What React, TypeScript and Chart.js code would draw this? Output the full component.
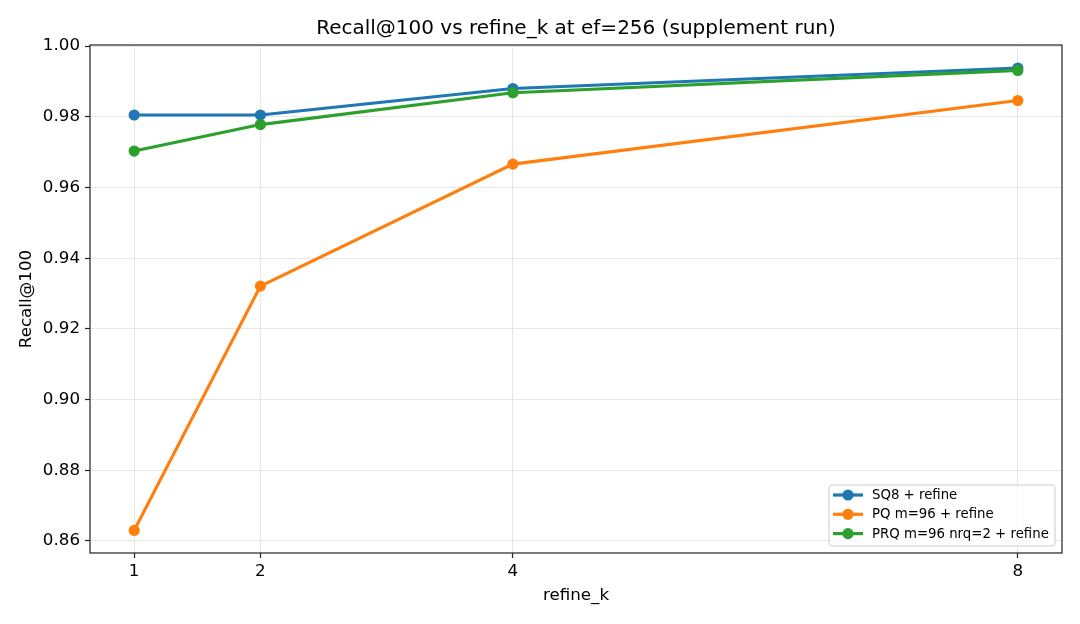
import React, { useEffect, useRef } from 'react'
import { Chart, registerables } from 'chart.js'

Chart.register(...registerables)

// Data
const refineK = [1, 2, 4, 8]
const sq8Recall = [0.9805, 0.9805, 0.9880, 0.9938]
const pqRecall = [0.863, 0.9321, 0.9666, 0.9846]
const prqRecall = [0.9703, 0.9778, 0.9868, 0.9931]
const yTicks = [0.86, 0.88, 0.9, 0.92, 0.94, 0.96, 0.98, 1.0]

const seriesLabels = ['SQ8 + refine', 'PQ m=96 + refine', 'PRQ m=96 nrq=2 + refine']
const seriesColors = ['#1f77b4', '#ff7f0e', '#2ca02c']
const chartTitle = 'Recall@100 vs refine_k at ef=256 (supplement run)'

const FONT = "'DejaVu Sans', sans-serif"
const TICK_SIZE = 16.7

// full box around the plot area (matplotlib spines) + title centred on the axes
const framePlugin = {
  id: 'frame',
  afterDatasetsDraw(chart: any) {
    const { ctx, chartArea } = chart
    ctx.save()
    ctx.strokeStyle = '#222'
    ctx.lineWidth = 1.2
    ctx.strokeRect(chartArea.left, chartArea.top, chartArea.right - chartArea.left, chartArea.bottom - chartArea.top)
    ctx.font = `20px ${FONT}`
    ctx.fillStyle = '#000'
    ctx.textAlign = 'center'
    ctx.textBaseline = 'middle'
    ctx.fillText(chartTitle, (chartArea.left + chartArea.right) / 2, 28.5)
    ctx.restore()
  }
}

// legend with line + marker sample, lower right inside the axes
const legendPlugin = {
  id: 'mplLegend',
  afterDraw(chart: any) {
    const { ctx, chartArea } = chart
    const w = 226
    const h = 61
    const x = chartArea.right - 7 - w
    const y = chartArea.bottom - 7 - h
    ctx.save()
    ctx.beginPath()
    ctx.roundRect(x, y, w, h, 3)
    ctx.fillStyle = 'rgba(255,255,255,0.8)'
    ctx.fill()
    ctx.strokeStyle = '#cccccc'
    ctx.lineWidth = 1
    ctx.stroke()
    ctx.font = `13.3px ${FONT}`
    ctx.textBaseline = 'middle'
    seriesLabels.forEach((label, i) => {
      const cy = y + 10 + i * 19.3
      ctx.strokeStyle = seriesColors[i]
      ctx.lineWidth = 3.2
      ctx.beginPath()
      ctx.moveTo(x + 4, cy)
      ctx.lineTo(x + 34, cy)
      ctx.stroke()
      ctx.fillStyle = seriesColors[i]
      ctx.beginPath()
      ctx.arc(x + 19, cy, 5.6, 0, Math.PI * 2)
      ctx.fill()
      ctx.fillStyle = '#000'
      ctx.fillText(label, x + 43, cy + 0.5)
    })
    ctx.restore()
  }
}

const App: React.FC = () => {
  const canvasRef = useRef<HTMLCanvasElement>(null)

  useEffect(() => {
    if (!canvasRef.current) return
    const makeSet = (i: number, data: number[], order: number) => ({
      label: seriesLabels[i],
      data: refineK.map((k, j) => ({ x: k, y: data[j] })),
      borderColor: seriesColors[i],
      backgroundColor: seriesColors[i],
      pointBackgroundColor: seriesColors[i],
      pointBorderColor: seriesColors[i],
      borderWidth: 3.2,
      pointRadius: 5.6,
      pointBorderWidth: 0,
      tension: 0,
      order
    })

    const chart = new Chart(canvasRef.current, {
      type: 'line',
      data: {
        datasets: [makeSet(0, sq8Recall, 2), makeSet(1, pqRecall, 1), makeSet(2, prqRecall, 0)]
      },
      options: {
        responsive: false,
        animation: false,
        layout: { padding: { left: 0, right: 18, top: 45, bottom: 0 } },
        scales: {
          x: {
            type: 'linear',
            min: 0.65,
            max: 8.35,
            afterBuildTicks: (scale: any) => {
              scale.ticks = refineK.map((v) => ({ value: v }))
            },
            afterFit: (scale: any) => {
              scale.height = 71
            },
            grid: { color: '#e6e6e6', lineWidth: 1, tickColor: '#222', tickLength: 5, tickWidth: 1.2 },
            border: { display: false },
            ticks: { color: '#000', font: { family: FONT, size: TICK_SIZE }, padding: 4, maxRotation: 0 },
            title: { display: true, text: 'refine_k', color: '#000', font: { family: FONT, size: TICK_SIZE }, padding: { top: 0, bottom: 18 } }
          },
          y: {
            type: 'linear',
            min: 0.8566,
            max: 1.0003,
            afterBuildTicks: (scale: any) => {
              scale.ticks = yTicks.map((v) => ({ value: v }))
            },
            afterFit: (scale: any) => {
              scale.width = 90
            },
            grid: { color: '#e6e6e6', lineWidth: 1, tickColor: '#222', tickLength: 5, tickWidth: 1.2 },
            border: { display: false },
            ticks: {
              color: '#000',
              font: { family: FONT, size: TICK_SIZE },
              padding: 5,
              callback: (v: any) => Number(v).toFixed(2)
            },
            title: { display: true, text: 'Recall@100', color: '#000', font: { family: FONT, size: TICK_SIZE }, padding: { top: 17, bottom: 0 } }
          }
        },
        plugins: {
          legend: { display: false },
          tooltip: { enabled: false },
          title: { display: false }
        }
      },
      plugins: [framePlugin, legendPlugin]
    } as any)

    return () => {
      chart.destroy()
    }
  }, [])

  return (
    <div style={{ position: 'fixed', left: 0, top: 0, width: 1080, height: 624, background: '#fff' }}>
      <canvas ref={canvasRef} width={1080} height={624} />
    </div>
  )
}

export default App
